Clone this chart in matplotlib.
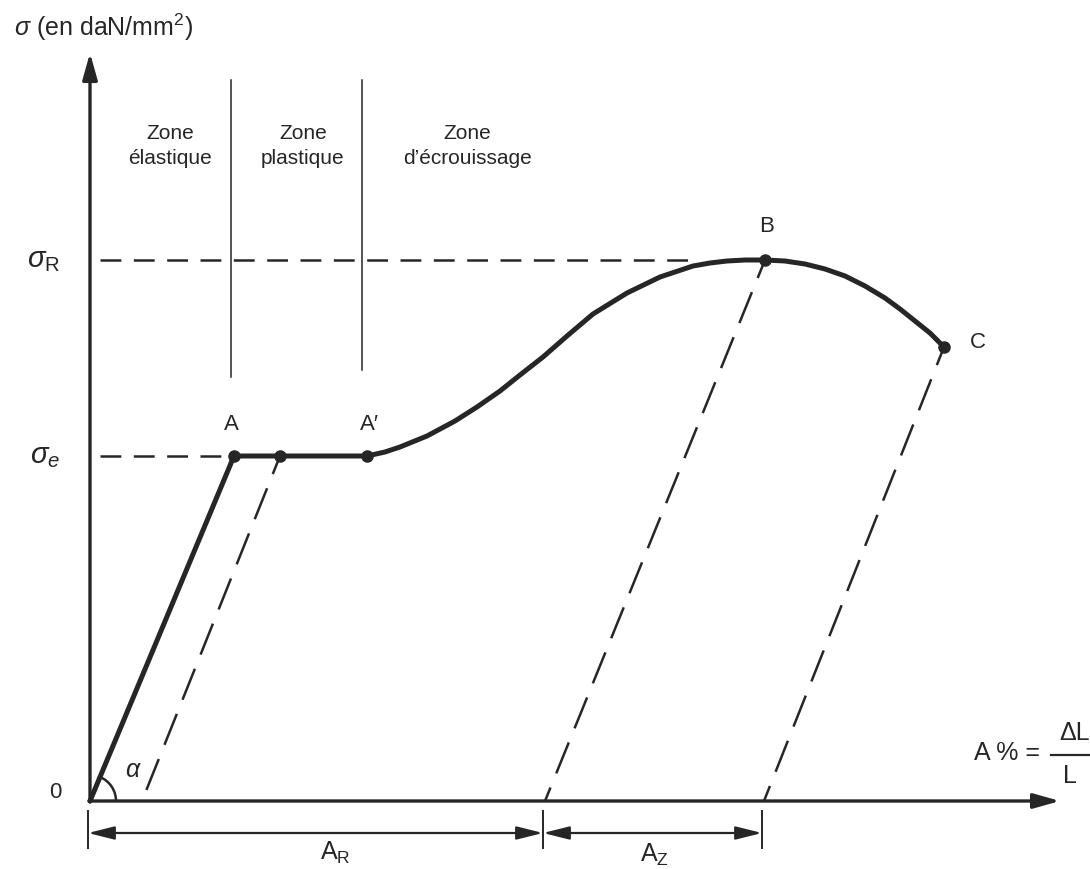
import matplotlib.pyplot as plt
from matplotlib.patches import Arc

plt.rcParams['font.family'] = ['Liberation Sans', 'DejaVu Sans']
plt.rcParams['mathtext.fontset'] = 'custom'
plt.rcParams['mathtext.rm'] = 'Liberation Sans'
plt.rcParams['mathtext.it'] = 'Liberation Sans:italic'
plt.rcParams['lines.scale_dashes'] = False

INK = "#262626"

# traction curve (strain, stress) in drawing units
strain = [0, 144, 190, 277, 295, 310, 337, 365, 387, 410, 430, 453, 477, 503,
          537, 570, 603, 620, 637, 655, 675, 695, 715, 735, 755, 775, 795,
          810, 825, 840, 854]
stress = [0, 345, 345, 345, 349, 354, 365, 380, 394, 410, 426, 444, 465, 487,
          508, 524, 535, 538, 540, 541, 541, 540, 537, 532, 525, 515, 503,
          492, 480, 468, 454]

# marked points
pt_x = [144, 190, 277, 675, 854]
pt_y = [345, 345, 345, 541, 454]

sigma_e = 345
sigma_R = 541

# unloading lines: start point -> foot on strain axis
unload_x0 = [190, 675, 854]
unload_y0 = [345, 541, 454]
unload_foot = [52, 455, 674]

# zone boundaries
zone_x = [141, 272]
zone_bottom = [424, 431]
zone_top = 721
zone_labels = ["Zone\nélastique", "Zone\nplastique", "Zone\nd\u2019écrouissage"]
zone_label_x = [80, 213, 377]

# elongations A_R and A_Z
A_R = 455
A_Z_end = 674


def main():
    fig = plt.figure(figsize=(10.9, 8.69), dpi=100)
    ax = fig.add_axes([0, 0, 1, 1])
    ax.set_xlim(-90, 1000)
    ax.set_ylim(-68, 801)
    ax.axis("off")

    # axes with arrows
    ax.annotate("", xy=(0, 748), xytext=(0, -1),
                arrowprops=dict(arrowstyle="-|>,head_length=1.6,head_width=0.45",
                                lw=2.4, color=INK, shrinkA=0, shrinkB=0))
    ax.annotate("", xy=(970, 0), xytext=(-1, 0),
                arrowprops=dict(arrowstyle="-|>,head_length=1.6,head_width=0.45",
                                lw=2.4, color=INK, shrinkA=0, shrinkB=0))

    # stress levels
    ax.plot([10, 610], [sigma_R, sigma_R], color=INK, lw=1.8,
            linestyle=(0, (15, 9)))
    ax.plot([10, 140], [sigma_e, sigma_e], color=INK, lw=1.8,
            linestyle=(0, (15, 9)))

    # unloading dashed lines
    for x0, y0, xf in zip(unload_x0, unload_y0, unload_foot):
        ax.plot([x0, xf], [y0, 0], color=INK, lw=1.8, linestyle=(10, (24, 11)))

    # main curve
    ax.plot(strain, stress, color=INK, lw=3.6, solid_capstyle="round",
            solid_joinstyle="round")
    ax.plot(pt_x, pt_y, "o", color=INK, ms=8)

    # zone separators and labels
    for x, yb in zip(zone_x, zone_bottom):
        ax.plot([x, x], [yb, zone_top], color=INK, lw=1.1)
    for lab, x in zip(zone_labels, zone_label_x):
        ax.text(x, 655, lab, ha="center", va="center", fontsize=15,
                color=INK, linespacing=1.4)

    # point labels
    ax.text(141, 376, "A", ha="center", va="center", fontsize=16, color=INK)
    ax.text(279, 376, "A\u2032", ha="center", va="center", fontsize=16, color=INK)
    ax.text(677, 574, "B", ha="center", va="center", fontsize=16, color=INK)
    ax.text(888, 458, "C", ha="center", va="center", fontsize=16, color=INK)

    # axis labels
    ax.text(-76, 774, r"$\sigma$ (en daN/mm$^2$)", ha="left", va="center",
            fontsize=18, color=INK)
    ax.text(-30, sigma_R, r"$\sigma_\mathrm{R}$", ha="right", va="center",
            fontsize=21, color=INK)
    ax.text(-30, sigma_e, r"$\sigma_e$", ha="right", va="center",
            fontsize=21, color=INK)
    ax.text(-35, 8, "0", ha="center", va="center", fontsize=16, color=INK)
    ax.text(43, 31, r"$\alpha$", ha="center", va="center", fontsize=18, color=INK)
    ax.add_patch(Arc((0, 0), 52, 52, theta1=0, theta2=67, color=INK, lw=1.8))

    ax.text(950, 48, "A % =", ha="right", va="center", fontsize=18, color=INK)
    ax.text(985, 68, "\u0394L", ha="center", va="center", fontsize=18, color=INK)
    ax.text(980, 25, "L", ha="center", va="center", fontsize=18, color=INK)
    ax.plot([961, 1000], [46, 46], color=INK, lw=1.6)

    # elongation dimensions
    dim_y = -32
    for x in [0, A_R, A_Z_end]:
        ax.plot([x - 2, x - 2], [-10, -47], color=INK, lw=1.4)
    for xa, xb in [(0, A_R), (A_R, A_Z_end)]:
        ax.annotate("", xy=(xb - 2, dim_y), xytext=(xa - 2, dim_y),
                    arrowprops=dict(arrowstyle="<|-|>,head_length=1.6,head_width=0.4",
                                    lw=1.6, color=INK, shrinkA=0, shrinkB=0))
    ax.text(245, -52, r"A$_\mathrm{R}$", ha="center", va="center",
            fontsize=18, color=INK)
    ax.text(565, -54, r"A$_\mathrm{Z}$", ha="center", va="center",
            fontsize=18, color=INK)

    fig.savefig("out.png", dpi=100)


if __name__ == "__main__":
    main()
